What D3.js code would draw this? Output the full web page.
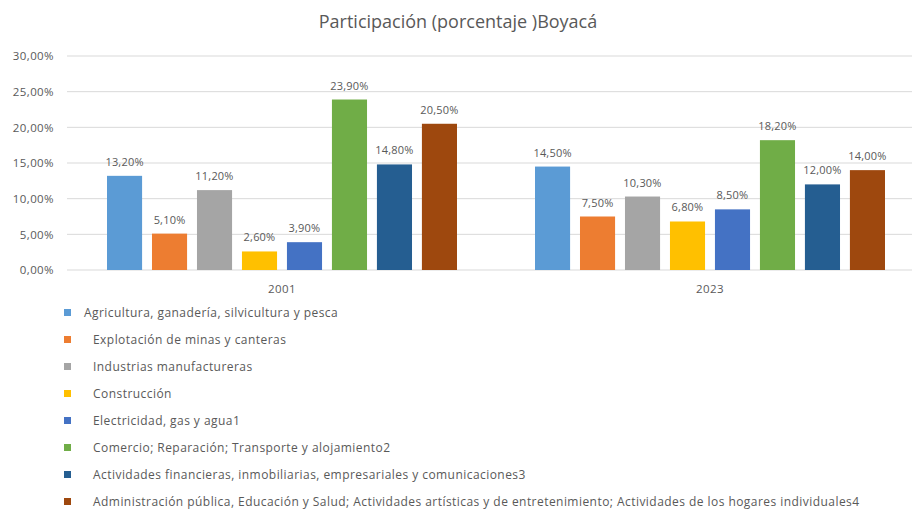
<!DOCTYPE html>
<meta charset="utf-8">
<style>
body { margin: 0; background: #fff; }
text { font-family: "Open Sans", "Liberation Sans", sans-serif; fill: #595959; }
</style>
<body>
<div id="chart"></div>
<script src="https://cdnjs.cloudflare.com/ajax/libs/d3/7.8.5/d3.min.js"></script>
<script>
// data
var years = ["2001", "2023"];
var sectors = [
    "Agricultura, ganadería, silvicultura y pesca",
    "Explotación de minas y canteras",
    "Industrias manufactureras",
    "Construcción",
    "Electricidad, gas y agua1",
    "Comercio; Reparación; Transporte y alojamiento2",
    "Actividades financieras, inmobiliarias, empresariales y comunicaciones3",
    "Administración pública, Educación y Salud; Actividades artísticas y de entretenimiento; Actividades de los hogares individuales4"
];
var values2001 = [13.2, 5.1, 11.2, 2.6, 3.9, 23.9, 14.8, 20.5];
var values2023 = [14.5, 7.5, 10.3, 6.8, 8.5, 18.2, 12.0, 14.0];
var yTicks = [0, 5, 10, 15, 20, 25, 30];
var colors = ["#5B9BD5", "#ED7D31", "#A5A5A5", "#FFC000", "#4472C4", "#70AD47", "#255E91", "#9E480E"];

var width = 912, height = 510;
var byYear = {"2001": values2001, "2023": values2023};
var groupW = 350;

var svg = d3.select("#chart").append("svg")
    .attr("width", width)
    .attr("height", height);

var x0 = d3.scaleBand()
    .domain(years)
    .range([68, 924]);
var x1 = d3.scaleBand()
    .domain(d3.range(sectors.length))
    .range([0, groupW])
    .paddingInner(0.22);
var y = d3.scaleLinear()
    .domain([0, 30])
    .range([270, 56]);

var fmt = function(v) { return v.toFixed(2).replace(".", ",") + "%"; };

// title
svg.append("text")
    .attr("x", 458)
    .attr("y", 28)
    .attr("text-anchor", "middle")
    .style("font-size", "18px")
    .text("Participación (porcentaje )Boyacá");

// grid lines
svg.append("g").selectAll("line")
    .data(yTicks)
    .enter().append("line")
    .attr("x1", 67)
    .attr("x2", width)
    .attr("y1", d => y(d))
    .attr("y2", d => y(d))
    .attr("stroke", "#d9d9d9")
    .attr("stroke-width", 1);

// y axis
var yAxis = d3.axisLeft(y).tickValues(yTicks).tickSize(0).tickPadding(13).tickFormat(fmt);
var gy = svg.append("g")
    .attr("transform", "translate(67,0)")
    .call(yAxis);
gy.select(".domain").remove();
gy.selectAll("text")
    .style("font-size", "11.5px")
    .style("letter-spacing", "0.4px")
    .attr("fill", "#595959");

// x axis labels
var gx = svg.append("g")
    .attr("transform", "translate(0,270)")
    .call(d3.axisBottom(x0).tickSize(0).tickPadding(15));
gx.select(".domain").remove();
gx.selectAll("text")
    .style("font-size", "11.5px")
    .style("letter-spacing", "0.4px")
    .attr("fill", "#595959");

// bars
var groups = svg.selectAll(".year")
    .data(years)
    .enter().append("g")
    .attr("class", "year")
    .attr("transform", d => "translate(" + (x0(d) + x0.bandwidth() / 2 - groupW / 2) + ",0)");

groups.selectAll("rect")
    .data(d => byYear[d].map((v, i) => ({i: i, v: v})))
    .enter().append("rect")
    .attr("x", d => x1(d.i))
    .attr("y", d => y(d.v))
    .attr("width", x1.bandwidth())
    .attr("height", d => y(0) - y(d.v))
    .attr("fill", d => colors[d.i]);

groups.selectAll(".lbl")
    .data(d => byYear[d].map((v, i) => ({i: i, v: v})))
    .enter().append("text")
    .attr("class", "lbl")
    .attr("x", d => x1(d.i) + x1.bandwidth() / 2)
    .attr("y", d => y(d.v) - 10)
    .attr("text-anchor", "middle")
    .style("font-size", "11px")
    .style("letter-spacing", "0.2px")
    .text(d => fmt(d.v));

// legend
var legend = svg.selectAll(".leg")
    .data(sectors)
    .enter().append("g")
    .attr("class", "leg")
    .attr("transform", (d, i) => "translate(64," + (313 + i * 27) + ")");

legend.append("rect")
    .attr("x", 0)
    .attr("y", -4)
    .attr("width", 7)
    .attr("height", 7)
    .attr("fill", (d, i) => colors[i]);

legend.append("text")
    .attr("x", (d, i) => i == 0 ? 20 : 29)
    .attr("y", 4)
    .style("font-size", "12px")
    .style("letter-spacing", "0.45px")
    .text(d => d);
</script>
</body>
